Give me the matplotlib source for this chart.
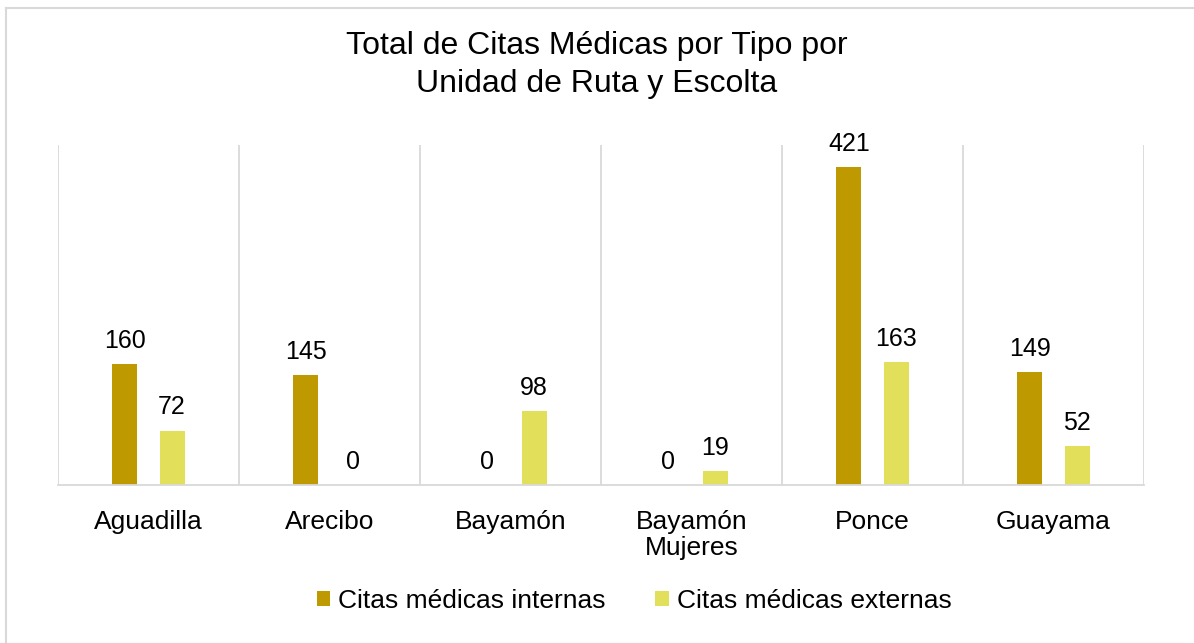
import numpy as np
import matplotlib
matplotlib.use('Agg')
import matplotlib.pyplot as plt
from matplotlib.lines import Line2D

plt.rcParams['font.family'] = ['Liberation Sans', 'DejaVu Sans']

units = ['Aguadilla', 'Arecibo', 'Bayamón', 'Bayamón\nMujeres', 'Ponce', 'Guayama']
internas = [160, 145, 0, 0, 421, 149]
externas = [72, 0, 98, 19, 163, 52]
series_names = ['Citas médicas internas', 'Citas médicas externas']
title = 'Total de Citas Médicas por Tipo por\nUnidad de Ruta y Escolta'

c_int = '#BF9900'
c_ext = '#E2E05A'
grid_c = '#D9D9D9'

fig = plt.figure(figsize=(11.94, 6.43), dpi=100)
ax = fig.add_axes([58 / 1194, 1 - 485 / 643, (1144 - 58) / 1194, (485 - 145) / 643])

x = np.arange(len(units))
w = 0.138
off = 0.13
b1 = ax.bar(x - off, internas, w, color=c_int, label=series_names[0])
b2 = ax.bar(x + off, externas, w, color=c_ext, label=series_names[1])
for bars, vals in ((b1, internas), (b2, externas)):
    for rect, v in zip(bars, vals):
        ax.annotate(str(v), (rect.get_x() + rect.get_width() / 2, v),
                    xytext=(0, 8), textcoords='offset points',
                    ha='center', va='bottom', fontsize=18)

ax.set_xlim(-0.5, len(units) - 0.5)
ax.set_ylim(0, 450)
for b in np.arange(-0.5, len(units), 1.0):
    ax.axvline(b, color=grid_c, lw=1.3, zorder=0)
ax.set_xticks(x)
ax.set_xticklabels(units, fontsize=19, linespacing=1.12)
ax.tick_params(axis='x', length=0, pad=18)
ax.set_yticks([])
for s in ('top', 'left', 'right'):
    ax.spines[s].set_visible(False)
ax.spines['bottom'].set_color(grid_c)
ax.spines['bottom'].set_linewidth(1.3)

fig.text(0.5, 1 - 65 / 643, title, ha='center', va='center', fontsize=23,
         linespacing=1.38)

fig.legend(handles=[b1, b2], labels=series_names, loc='center',
           bbox_to_anchor=(634 / 1194, 1 - 601 / 643), ncol=2, frameon=False,
           fontsize=19, handlelength=0.5, handleheight=0.5,
           handletextpad=0.3, columnspacing=1.9)

# chart border (top and left edges visible)
fig.add_artist(Line2D([6 / 1194, 6 / 1194], [0, 1 - 8 / 643], color=grid_c,
                      lw=1.5, transform=fig.transFigure))
fig.add_artist(Line2D([6 / 1194, 1], [1 - 8 / 643, 1 - 8 / 643], color=grid_c,
                      lw=1.5, transform=fig.transFigure))

fig.savefig('out.png', dpi=100)
